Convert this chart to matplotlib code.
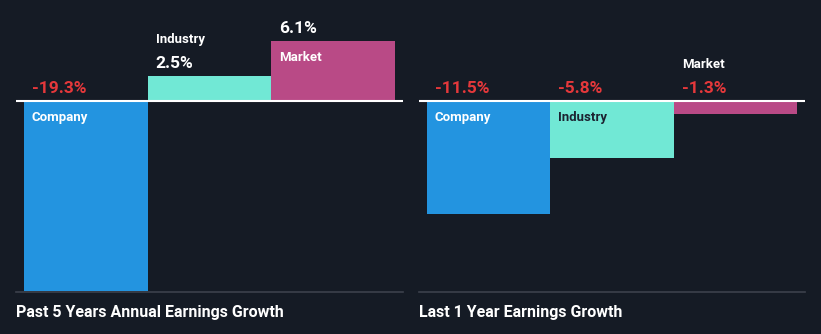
import matplotlib
matplotlib.use("Agg")
import matplotlib.pyplot as plt
from matplotlib.transforms import offset_copy

categories = ["Company", "Industry", "Market"]
past5_values = [-19.3, 2.5, 6.1]
last1_values = [-11.5, -5.8, -1.3]
panel_titles = ["Past 5 Years Annual Earnings Growth", "Last 1 Year Earnings Growth"]

BG = "#151b25"
bar_colors = ["#2394e0", "#71e8d5", "#b94a86"]
label_colors_inside = ["#ffffff", "#1c2331", "#ffffff"]
RED = "#e5383b"
WHITE = "#ffffff"

plt.rcParams['font.family'] = ['Roboto', 'DejaVu Sans']

W, H = 821, 334
fig = plt.figure(figsize=(W / 100, H / 100), dpi=100, facecolor=BG)

px_per_unit = 9.85
zero_y = 101
bottom_y = 292
ytop = zero_y / px_per_unit
ybot = -(bottom_y - zero_y) / px_per_unit

panels = [(16, 387, past5_values), (419, 386, last1_values)]

for (x0, wpx, vals), title in zip(panels, panel_titles):
    ax = fig.add_axes([x0 / W, (H - bottom_y) / H, wpx / W, bottom_y / H])
    ax.set_facecolor(BG)
    pad = 8 / 123.7
    ax.set_xlim(-0.5 - pad, 2.5 + pad)
    ax.set_ylim(ybot, ytop)
    xs = list(range(len(categories)))
    ax.bar(xs, vals, width=1.0, color=bar_colors, linewidth=0)
    ax.axhline(0, color=WHITE, linewidth=1.5, zorder=3)
    for s in ["top", "left", "right"]:
        ax.spines[s].set_visible(False)
    ax.spines["bottom"].set_color("#3c414c")
    ax.spines["bottom"].set_linewidth(1.2)
    ax.set_xticks([])
    ax.set_yticks([])

    for i, (cat, v) in enumerate(zip(categories, vals)):
        xl = i - 0.5
        top = max(v, 0)
        vcol = RED if v < 0 else WHITE
        vtxt = f"{v:.1f}%"
        tr_val = offset_copy(ax.transData, fig=fig, x=8, y=8, units='dots')
        ax.text(xl, top, vtxt, transform=tr_val, color=vcol, fontsize=12.5,
                fontweight='semibold', ha='left', va='baseline')
        bar_h_px = abs(v) * px_per_unit
        if bar_h_px > 30:
            tr_lab = offset_copy(ax.transData, fig=fig, x=8, y=-20, units='dots')
            ax.text(xl, top, cat, transform=tr_lab, color=label_colors_inside[i],
                    fontsize=9.5, fontweight='bold', ha='left', va='baseline')
        else:
            tr_lab = offset_copy(ax.transData, fig=fig, x=8, y=33.5, units='dots')
            ax.text(xl, top, cat, transform=tr_lab, color=WHITE,
                    fontsize=9.5, fontweight='bold', ha='left', va='baseline')

    fig.text(x0 / W, 1 - 312 / H, title, color=WHITE, fontsize=11.5,
             fontweight='bold', ha='left', va='center')

fig.savefig("out.png", dpi=100, facecolor=BG)
